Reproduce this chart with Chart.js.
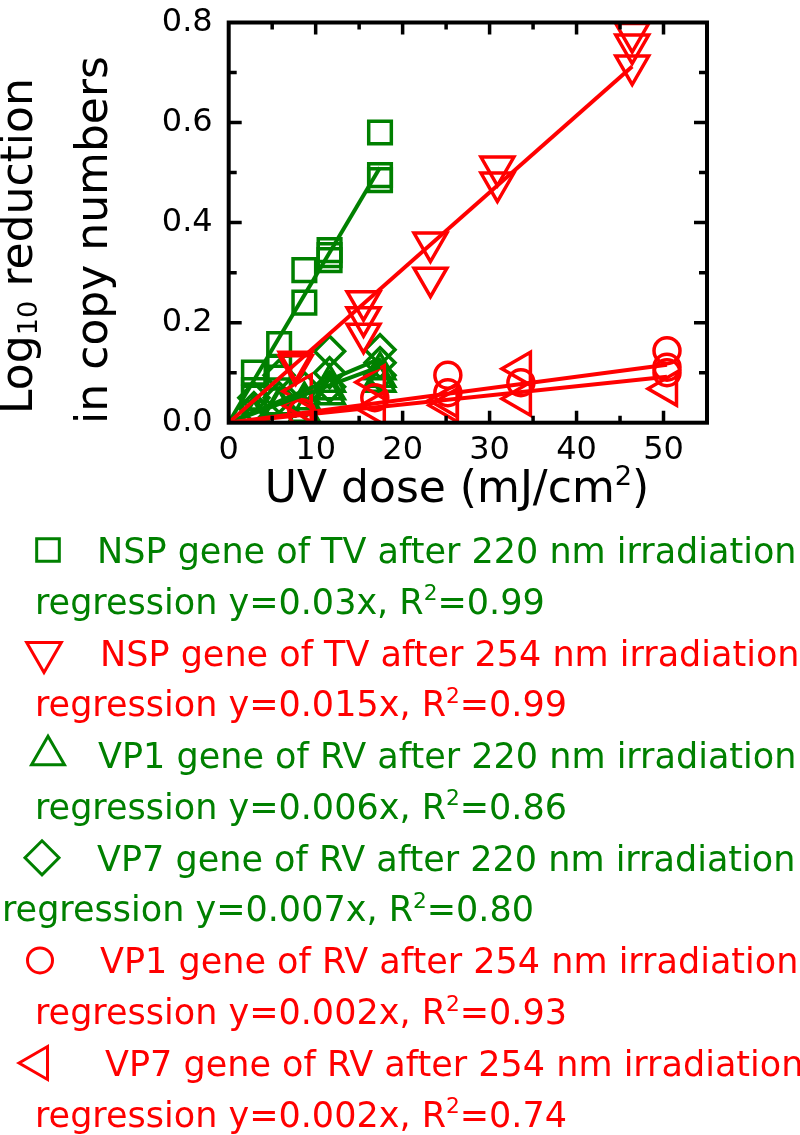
<!DOCTYPE html>
<html>
<head>
<meta charset="utf-8">
<script src="https://cdn.jsdelivr.net/npm/chart.js@4.4.0/dist/chart.umd.min.js"></script>
<style>
  html, body { margin: 0; padding: 0; background: #fff; }
  #wrap { width: 800px; height: 1135px; }
</style>
</head>
<body>
<div id="wrap"><canvas id="uvChart" width="800" height="1135"></canvas></div>
<script>
const GREEN = '#008000';
const RED = '#ff0000';
const FONT = "'DejaVu Sans', sans-serif";

const xTickStep = 10;
const yTickStep = 0.2;

// NSP gene of TV, 220 nm (squares)
const nsp220Dose = [2.9, 2.9, 2.9, 5.8, 5.8, 5.8, 8.7, 8.7, 11.6, 11.6, 11.6, 17.4, 17.4, 17.4];
const nsp220Log  = [0.10, 0.065, 0.05, 0.157, 0.11, 0.09, 0.305, 0.24, 0.345, 0.335, 0.325, 0.58, 0.495, 0.485];
// NSP gene of TV, 254 nm (down triangles)
const nsp254Dose = [7.7, 7.7, 15.5, 15.5, 15.5, 23.2, 23.2, 30.9, 30.9, 46.4, 46.4, 46.4];
const nsp254Log  = [0.122, 0.115, 0.243, 0.211, 0.178, 0.36, 0.29, 0.512, 0.48, 0.779, 0.756, 0.714];
// VP1 gene of RV, 220 nm (up triangles)
const vp1220Dose = [2.9, 2.9, 5.8, 5.8, 8.7, 8.7, 11.6, 11.6, 11.6, 17.4, 17.4, 17.4];
const vp1220Log  = [0.02, 0.01, 0.035, 0.03, 0.045, 0.02, 0.08, 0.065, 0.055, 0.105, 0.09, 0.08];
// VP7 gene of RV, 220 nm (diamonds)
const vp7220Dose = [2.9, 2.9, 5.8, 5.8, 8.7, 8.7, 11.6, 11.6, 11.6, 17.4, 17.4, 17.4];
const vp7220Log  = [0.03, 0.05, 0.095, 0.05, 0.07, 0.04, 0.143, 0.1, 0.072, 0.146, 0.12, 0.095];
// VP1 gene of RV, 254 nm (circles)
const vp1254Dose = [8.4, 16.8, 25.2, 25.2, 33.6, 50.4, 50.4, 50.4];
const vp1254Log  = [0.02, 0.05, 0.095, 0.06, 0.08, 0.144, 0.111, 0.1];
// VP7 gene of RV, 254 nm (left triangles)
const vp7254Dose = [8.4, 8.4, 16.8, 16.8, 25.2, 25.2, 33.6, 33.6, 50.4];
const vp7254Log  = [0.063, 0.035, 0.081, 0.029, 0.035, 0.045, 0.108, 0.048, 0.068];

// regression lines (start, end)
const fitDose = [[0, 17.4], [0, 46.4], [0, 17.4], [0, 17.4], [0, 50.4], [0, 50.4]];
const fitLog  = [[0, 0.51], [0, 0.712], [0, 0.112], [0, 0.128], [0, 0.116], [0, 0.092]];

const seriesNames = [
  'NSP gene of TV after 220 nm irradiation',
  'NSP gene of TV after 254 nm irradiation',
  'VP1 gene of RV after 220 nm irradiation',
  'VP7 gene of RV after 220 nm irradiation',
  'VP1 gene of RV after 254 nm irradiation',
  'VP7 gene of RV after 254 nm irradiation'
];
const regressionEq = ['y=0.03x', 'y=0.015x', 'y=0.006x', 'y=0.007x', 'y=0.002x', 'y=0.002x'];
const regressionR2 = ['0.99', '0.99', '0.86', '0.80', '0.93', '0.74'];

const seriesColor = [GREEN, RED, GREEN, GREEN, RED, RED];
const seriesStyle = ['rect', 'triangle', 'triangle', 'rectRot', 'circle', 'triangle'];
const seriesRot = [0, 180, 0, 0, 0, 270];
const seriesRadius = [16, 19, 17, 15, 13, 19];

const doses = [nsp220Dose, nsp254Dose, vp1220Dose, vp7220Dose, vp1254Dose, vp7254Dose];
const logs = [nsp220Log, nsp254Log, vp1220Log, vp7220Log, vp1254Log, vp7254Log];

const datasets = [];
doses.forEach((d, i) => {
  datasets.push({
    label: seriesNames[i],
    data: d.map((x, j) => ({ x: x, y: logs[i][j] })),
    showLine: false,
    pointStyle: seriesStyle[i],
    rotation: seriesRot[i],
    pointRadius: seriesRadius[i],
    pointHoverRadius: seriesRadius[i],
    pointBorderWidth: 3.5,
    pointBorderColor: seriesColor[i],
    pointBackgroundColor: 'rgba(0,0,0,0)',
    order: seriesColor[i] === RED ? 9 : 10
  });
  datasets.push({
    label: 'fit ' + i,
    data: fitDose[i].map((x, j) => ({ x: x, y: fitLog[i][j] })),
    showLine: true,
    borderColor: seriesColor[i],
    borderWidth: 4,
    pointRadius: 0,
    order: seriesColor[i] === RED ? 1 : 2
  });
});

// text with super/subscripts
function drawRich(ctx, segs, x, y, size, align) {
  let total = 0;
  segs.forEach(s => {
    ctx.font = (s.sup || s.sub ? size * 0.62 : size) + 'px ' + FONT;
    s.w = ctx.measureText(s.t).width;
    total += s.w;
  });
  let cx = align === 'center' ? x - total / 2 : x;
  ctx.textAlign = 'left';
  segs.forEach(s => {
    ctx.font = (s.sup || s.sub ? size * 0.62 : size) + 'px ' + FONT;
    let dy = s.sup ? -size * 0.38 : (s.sub ? size * 0.2 : 0);
    ctx.fillText(s.t, cx, y + dy);
    cx += s.w;
  });
}

function drawMarker(ctx, style, rot, x, y, r) {
  ctx.beginPath();
  if (style === 'rect') {
    const h = r * Math.SQRT1_2;
    ctx.rect(x - h, y - h, 2 * h, 2 * h);
  } else if (style === 'rectRot') {
    ctx.moveTo(x, y - r); ctx.lineTo(x + r, y); ctx.lineTo(x, y + r); ctx.lineTo(x - r, y); ctx.closePath();
  } else if (style === 'circle') {
    ctx.arc(x, y, r, 0, Math.PI * 2);
  } else {
    let a = rot * Math.PI / 180;
    for (let k = 0; k < 3; k++) {
      const px = x + Math.sin(a) * r, py = y - Math.cos(a) * r;
      if (k === 0) ctx.moveTo(px, py); else ctx.lineTo(px, py);
      a += Math.PI * 2 / 3;
    }
    ctx.closePath();
  }
  ctx.stroke();
}

const framePlugin = {
  id: 'frame',
  afterDraw(chart) {
    const ctx = chart.ctx;
    const a = chart.chartArea;
    const xs = chart.scales.x, ys = chart.scales.y;
    ctx.save();
    ctx.strokeStyle = '#000';
    ctx.lineWidth = 4;
    ctx.strokeRect(a.left, a.top, a.right - a.left, a.bottom - a.top);
    ctx.lineWidth = 3.5;
    ctx.beginPath();
    for (let v = 5; v < 55; v += 5) {
      const px = xs.getPixelForValue(v);
      const len = v % 10 === 0 ? 12 : 7;
      ctx.moveTo(px, a.bottom); ctx.lineTo(px, a.bottom - len);
      ctx.moveTo(px, a.top); ctx.lineTo(px, a.top + len);
    }
    for (let k = 1; k < 8; k++) {
      const py = ys.getPixelForValue(k / 10);
      const len = k % 2 === 0 ? 13 : 8;
      ctx.moveTo(a.left, py); ctx.lineTo(a.left + len, py);
      ctx.moveTo(a.right, py); ctx.lineTo(a.right - len, py);
    }
    ctx.stroke();

    // axis titles
    ctx.fillStyle = '#000';
    ctx.textBaseline = 'alphabetic';
    drawRich(ctx, [{ t: 'UV dose (mJ/cm' }, { t: '2', sup: true }, { t: ')' }], 457, 502, 44, 'center');
    ctx.textBaseline = 'middle';
    ctx.save();
    ctx.translate(21, 246);
    ctx.rotate(-Math.PI / 2);
    drawRich(ctx, [{ t: 'Log' }, { t: '10', sub: true }, { t: ' reduction' }], 0, 0, 44, 'center');
    ctx.restore();
    ctx.save();
    ctx.translate(96, 240);
    ctx.rotate(-Math.PI / 2);
    drawRich(ctx, [{ t: 'in copy numbers' }], 0, 0, 44, 'center');
    ctx.restore();

    // legend below the plot
    const nameX = [97, 100, 98, 97, 100, 105];
    const regX = [35, 35, 35, 2, 35, 35];
    const markX = [48, 44, 48, 42, 40, 38];
    const markR = [16, 20, 19, 17, 12.5, 19];
    ctx.textBaseline = 'alphabetic';
    for (let i = 0; i < 6; i++) {
      const base = 563 + i * 102.6;
      ctx.fillStyle = seriesColor[i];
      ctx.strokeStyle = seriesColor[i];
      ctx.lineWidth = 3;
      drawMarker(ctx, seriesStyle[i], seriesRot[i], markX[i], base - 13, markR[i]);
      drawRich(ctx, [{ t: seriesNames[i] }], nameX[i], base, 35, 'left');
      drawRich(ctx, [{ t: 'regression ' + regressionEq[i] + ', R' }, { t: '2', sup: true }, { t: '=' + regressionR2[i] }],
        regX[i], base + 50.5, 35, 'left');
    }
    ctx.restore();
  }
};

new Chart(document.getElementById('uvChart'), {
  type: 'scatter',
  data: { datasets: datasets },
  options: {
    responsive: false,
    animation: false,
    layout: { padding: { left: 0, top: 19.3, right: 93, bottom: 627.3 } },
    plugins: { legend: { display: false }, tooltip: { enabled: false } },
    scales: {
      x: {
        type: 'linear', min: 0, max: 55,
        afterFit: s => { s.height = 85; },
        grid: { display: false, drawTicks: false },
        border: { display: false },
        ticks: { stepSize: xTickStep, includeBounds: false, padding: 9, maxRotation: 0, color: '#000',
          font: { family: FONT, size: 32 } }
      },
      y: {
        type: 'linear', min: 0, max: 0.8,
        afterFit: s => { s.width = 228.7; s.paddingTop = 10; s.paddingBottom = 10; },
        grid: { display: false, drawTicks: false },
        border: { display: false },
        ticks: { stepSize: yTickStep, padding: 16, color: '#000', callback: v => Number(v).toFixed(1),
          font: { family: FONT, size: 32 } }
      }
    }
  },
  plugins: [framePlugin]
});
</script>
</body>
</html>
